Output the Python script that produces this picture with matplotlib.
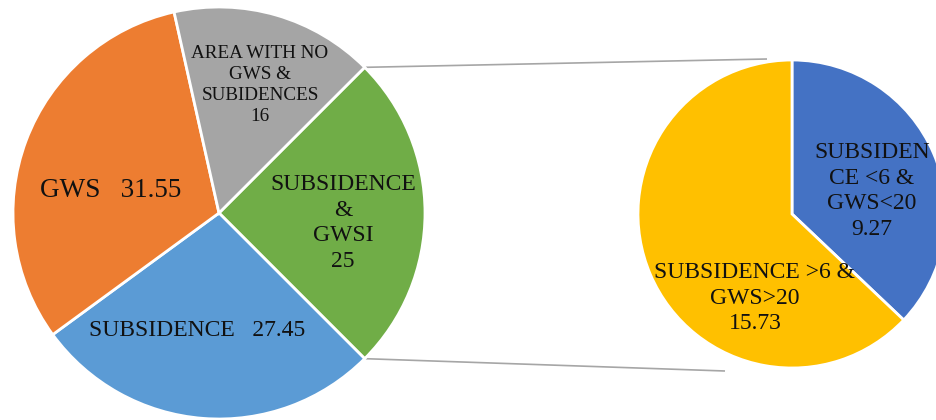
import matplotlib
matplotlib.use("Agg")
import matplotlib.pyplot as plt
import numpy as np

plt.rcParams["font.family"] = ["Liberation Serif", "DejaVu Serif"]

# Main pie (share of area, %), listed clockwise from the 45 degree line
main_names = ["SUBSIDENCE\n&\nGWSI", "SUBSIDENCE", "GWS", "AREA WITH NO\nGWS &\nSUBIDENCES"]
main_values = [25, 27.45, 31.55, 16]
main_seps = ["\n", "   ", "   ", "\n"]
main_colors = ["#70AD47", "#5B9BD5", "#ED7D31", "#A5A5A5"]

# Breakdown of the "SUBSIDENCE & GWSI" slice
sub_names = ["SUBSIDEN\nCE <6 &\nGWS<20", "SUBSIDENCE >6 &\nGWS>20"]
sub_values = [9.27, 15.73]
sub_colors = ["#4472C4", "#FFC000"]

W, H = 937, 420
fig = plt.figure(figsize=(W / 100, H / 100), dpi=100)
ax = fig.add_axes([0, 0, 1, 1])


def py(y):
    """Convert a top-down pixel row into the axes' y coordinate."""
    return H - y


main_center = (219, py(213))
main_radius = 206
sub_center = (792, py(214))
sub_radius = 154

edge = dict(edgecolor="white", linewidth=2.0)

main_wedges, _ = ax.pie(main_values, colors=main_colors, startangle=45,
                        counterclock=False, center=main_center,
                        radius=main_radius, wedgeprops=edge, frame=True)
sub_wedges, _ = ax.pie(sub_values, colors=sub_colors, startangle=90,
                       counterclock=False, center=sub_center,
                       radius=sub_radius, wedgeprops=edge, frame=True)
ax.set_xlim(0, W)
ax.set_ylim(0, H)
ax.set_aspect("equal")
ax.axis("off")


def fmt(v):
    return f"{v:g}"


main_labels = [n + s + fmt(v) for n, s, v in zip(main_names, main_seps, main_values)]
sub_labels = [n + "\n" + fmt(v) for n, v in zip(sub_names, sub_values)]

text_kw = dict(ha="center", va="center", color="#111111")

# label anchors (x, top-down y), font sizes and line spacing for each slice
main_pos = [(343, 223), (197, 330), (111, 191), (260, 85)]
main_size = [17, 17, 19.5, 13.8]
main_spacing = [1.28, 1.2, 1.2, 1.3]
for lab, (x, y), fs, ls in zip(main_labels, main_pos, main_size, main_spacing):
    ax.text(x, py(y), lab, fontsize=fs, linespacing=ls, **text_kw)

sub_pos = [(872, 191), (755, 298)]
for lab, (x, y) in zip(sub_labels, sub_pos):
    ax.text(x, py(y), lab, fontsize=17, linespacing=1.3, **text_kw)

# connector lines from the edges of the green slice to the secondary pie
g = main_wedges[0]
for ang, end in [(g.theta2, (767, py(59))), (g.theta1, (725, py(371)))]:
    t = np.deg2rad(ang)
    start = (main_center[0] + main_radius * np.cos(t),
             main_center[1] + main_radius * np.sin(t))
    ax.plot([start[0], end[0]], [start[1], end[1]], color="#A6A6A6",
            linewidth=1.2, solid_capstyle="butt", zorder=0)

fig.savefig("out.png", dpi=100, facecolor="white")
